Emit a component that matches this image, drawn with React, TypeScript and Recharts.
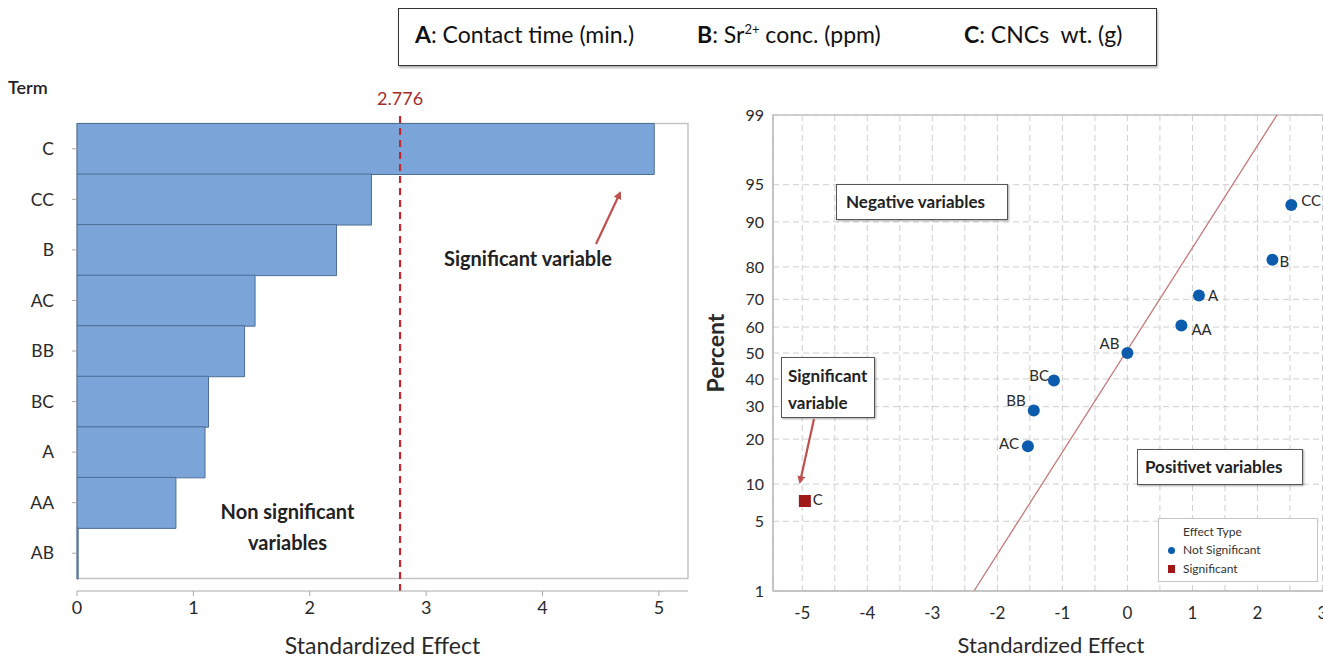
import React from "react";
import {
  BarChart,
  Bar,
  ComposedChart,
  Scatter,
  Line,
  XAxis,
  YAxis,
  CartesianGrid,
  ReferenceLine,
  ReferenceArea,
  LabelList,
  Label,
} from "recharts";

// Pareto chart (absolute standardized effects)
const paretoTerms = ["C", "CC", "B", "AC", "BB", "BC", "A", "AA", "AB"];
const paretoEffects = [4.96, 2.53, 2.23, 1.53, 1.44, 1.13, 1.1, 0.85, 0.01];
const criticalValue = 2.776;
const paretoTicks = [0, 1, 2, 3, 4, 5];

// Normal plot of standardized effects
const normalTerms = ["C", "AC", "BB", "BC", "AB", "AA", "A", "B", "CC"];
const normalEffects = [-4.96, -1.53, -1.44, -1.13, 0.0, 0.83, 1.1, 2.23, 2.52];
const normalPercents = [7.4, 18.1, 28.7, 39.4, 50, 60.6, 71.3, 81.9, 92.6];
const significantTerms = ["C"];
const fitEffects = [-2.36, 2.3];
const fitPercents = [1, 99];
const percentTicks = [1, 5, 10, 20, 30, 40, 50, 60, 70, 80, 90, 95, 99];
const effectTicks = [-5, -4.5, -4, -3.5, -3, -2.5, -2, -1.5, -1, -0.5, 0, 0.5, 1, 1.5, 2, 2.5, 3];

const FONT = "Lato, 'Open Sans', sans-serif";
const TEXT = "#2a2a2a";

// inverse normal CDF (Acklam) -> maps percent onto the probability axis
function probit(pct: number): number {
  const p = pct / 100;
  const a = [-39.69683028665376, 220.9460984245205, -275.9285104469687, 138.357751867269, -30.66479806614716, 2.506628277459239];
  const b = [-54.47609879822406, 161.5858368580409, -155.6989798598866, 66.80131188771972, -13.28068155288572];
  const c = [-0.007784894002430293, -0.3223964580411365, -2.400758277161838, -2.549732539343734, 4.374664141464968, 2.938163982698783];
  const d = [0.007784695709041462, 0.3224671290700398, 2.445134137142996, 3.754408661907416];
  const tail = (q: number) =>
    (((((c[0] * q + c[1]) * q + c[2]) * q + c[3]) * q + c[4]) * q + c[5]) /
    ((((d[0] * q + d[1]) * q + d[2]) * q + d[3]) * q + 1);
  if (p < 0.02425) return tail(Math.sqrt(-2 * Math.log(p)));
  if (p > 1 - 0.02425) return -tail(Math.sqrt(-2 * Math.log(1 - p)));
  const q = p - 0.5;
  const r = q * q;
  return (
    ((((((a[0] * r + a[1]) * r + a[2]) * r + a[3]) * r + a[4]) * r + a[5]) * q) /
    (((((b[0] * r + b[1]) * r + b[2]) * r + b[3]) * r + b[4]) * r + 1)
  );
}

const paretoData = paretoTerms.map((term, i) => ({ term, effect: paretoEffects[i] }));

const pointData = normalTerms.map((term, i) => ({
  term,
  x: normalEffects[i],
  z: probit(normalPercents[i]),
}));
const notSigData = pointData.filter((d) => !significantTerms.includes(d.term));
const sigData = pointData.filter((d) => significantTerms.includes(d.term));
const fitData = fitEffects.map((x, i) => ({ x, z: probit(fitPercents[i]) }));
const zTicks = percentTicks.map(probit);
const zDomain = [probit(1), probit(99)];

// label placement next to each point: [dx, dy, anchor]
const labelPlacement: Record<string, [number, number, string]> = {
  CC: [10, -5, "start"],
  B: [7, 1, "start"],
  A: [9, 0, "start"],
  AA: [10, 4, "start"],
  AB: [-8, -10, "end"],
  BC: [-5, -6, "end"],
  BB: [-8, -11, "end"],
  AC: [-9, -3, "end"],
  C: [8, -2, "start"],
};

function PointLabel(props: any) {
  const { x, y, width, height, value } = props;
  const cx = x + (width || 0) / 2;
  const cy = y + (height || 0) / 2;
  const [dx, dy, anchor] = labelPlacement[value] || [8, 0, "start"];
  return (
    <text x={cx + dx} y={cy + dy} textAnchor={anchor as any} dominantBaseline="central" fontSize={15} fill={TEXT} fontFamily={FONT}>
      {value}
    </text>
  );
}

const dot = (props: any) => <circle cx={props.cx} cy={props.cy} r={6} fill="#0b5cad" />;
const square = (props: any) => <rect x={props.cx - 6} y={props.cy - 6} width={12} height={12} fill="#a01818" />;

const boxStyle: React.CSSProperties = {
  position: "absolute",
  background: "#fff",
  border: "1px solid #555",
  boxShadow: "1px 1px 2px rgba(0,0,0,0.35)",
  fontWeight: 700,
  fontSize: 17,
  color: "#222",
  boxSizing: "border-box",
};

export default function App() {
  return (
    <div style={{ position: "absolute", left: 0, top: 0, width: 1323, height: 660, overflow: "hidden", background: "#fff", fontFamily: FONT, color: TEXT }}>
      {/* header with factor names */}
      <div style={{ position: "absolute", left: 398, top: 8, width: 759, height: 58, border: "1.5px solid #333", boxShadow: "1px 2px 2px rgba(0,0,0,0.3)", boxSizing: "border-box", fontSize: 23, color: "#111" }}>
        <span style={{ position: "absolute", left: 16, top: 11 }}><b>A</b>: Contact time (min.)</span>
        <span style={{ position: "absolute", left: 298, top: 11 }}><b>B</b>: Sr<sup style={{ fontSize: 13 }}>2+</sup> conc. (ppm)</span>
        <span style={{ position: "absolute", left: 565, top: 11 }}><b>C</b>: CNCs&nbsp; wt. (g)</span>
      </div>

      {/* Pareto chart */}
      <div style={{ position: "absolute", left: 0, top: 0 }}>
        <BarChart width={700} height={660} data={paretoData} layout="vertical" barCategoryGap={0} margin={{ top: 111, right: 12, bottom: 0, left: 37 }}>
          <XAxis
            type="number"
            domain={[0, 5.25]}
            ticks={paretoTicks}
            height={69}
            stroke="#aaa"
            tickSize={5}
            tickMargin={5}
            tick={{ fontSize: 18, fill: TEXT, fontFamily: FONT }}
          >
            <Label value="Standardized Effect" position="insideBottom" offset={6} style={{ fontSize: 23, fill: TEXT, fontFamily: FONT }} />
          </XAxis>
          <YAxis
            type="category"
            dataKey="term"
            width={40}
            padding={{ top: 12.5, bottom: 12.5 }}
            axisLine={false}
            stroke="#aaa"
            tickSize={5}
            tickMargin={18}
            tick={{ fontSize: 17.5, fill: TEXT, fontFamily: FONT }}
          />
          <ReferenceArea x1={0} x2={5.25} fill="none" stroke="#c4c4c4" strokeWidth={1.5} />
          <Bar dataKey="effect" fill="#7ba4d8" stroke="#4d6e96" strokeWidth={1} isAnimationActive={false} />
          <ReferenceLine
            x={criticalValue}
            stroke="#c0282d"
            strokeWidth={2.2}
            strokeDasharray="7 5"
            label={{ value: "2.776", position: "top", offset: 6, fill: "#a32c2c", fontSize: 18, fontFamily: FONT }}
          />
        </BarChart>
      </div>

      {/* Normal plot */}
      <div style={{ position: "absolute", left: 700, top: 0 }}>
        <ComposedChart width={640} height={660} margin={{ top: 115, right: 11, bottom: 0, left: 0 }}>
          <CartesianGrid stroke="#cfcfcf" strokeDasharray="6 4" />
          <XAxis
            type="number"
            dataKey="x"
            domain={[-5.45, 3.1]}
            allowDataOverflow
            ticks={effectTicks}
            interval={0}
            tickFormatter={(v: number) => (Number.isInteger(v) ? String(v) : "")}
            height={69}
            stroke="#bbb"
            tickLine={false}
            tickMargin={10}
            tick={{ fontSize: 17, fill: TEXT, fontFamily: FONT }}
          >
            <Label value="Standardized Effect" position="insideBottom" offset={7} style={{ fontSize: 22, fill: TEXT, fontFamily: FONT }} />
          </XAxis>
          <YAxis
            type="number"
            dataKey="z"
            domain={zDomain}
            allowDataOverflow
            ticks={zTicks}
            interval={0}
            tickFormatter={(v: number, i: number) => String(percentTicks[i])}
            width={73}
            stroke="#bbb"
            tickSize={0}
            tickMargin={9}
            tick={{ fontSize: 16, fill: TEXT, fontFamily: FONT }}
          >
            <Label value="Percent" angle={-90} position="insideLeft" offset={16} style={{ fontSize: 23, fontWeight: 700, fill: TEXT, fontFamily: FONT, textAnchor: "middle" }} />
          </YAxis>
          <ReferenceArea x1={-5.45} x2={3.1} y1={zDomain[0]} y2={zDomain[1]} fill="none" stroke="#c4c4c4" strokeWidth={1.5} />
          <Line data={fitData} dataKey="z" stroke="#c47a7a" strokeWidth={1.3} dot={false} isAnimationActive={false} />
          <Scatter data={notSigData} dataKey="z" shape={dot} isAnimationActive={false}>
            <LabelList dataKey="term" content={PointLabel} />
          </Scatter>
          <Scatter data={sigData} dataKey="z" shape={square} isAnimationActive={false}>
            <LabelList dataKey="term" content={PointLabel} />
          </Scatter>
        </ComposedChart>
      </div>

      {/* annotations */}
      <div style={{ position: "absolute", left: 8, top: 76, fontSize: 18, fontWeight: 600, color: "#222" }}>Term</div>
      <div style={{ position: "absolute", left: 444, top: 246, fontSize: 20, fontWeight: 700, color: "#222" }}>Significant variable</div>
      <div style={{ position: "absolute", left: 195, top: 496, width: 185, textAlign: "center", fontSize: 20, fontWeight: 700, color: "#222", lineHeight: "31px" }}>
        Non significant
        <br />
        variables
      </div>

      <div style={{ ...boxStyle, left: 836, top: 184, width: 172, height: 36, paddingLeft: 9, lineHeight: "34px" }}>Negative variables</div>
      <div style={{ ...boxStyle, left: 781, top: 357, width: 94, height: 61, paddingLeft: 6, paddingTop: 4, lineHeight: "27px" }}>
        Significant
        <br />
        variable
      </div>
      <div style={{ ...boxStyle, left: 1137, top: 449, width: 166, height: 36, paddingLeft: 7, lineHeight: "34px" }}>Positivet variables</div>

      <div style={{ position: "absolute", left: 1158, top: 518, width: 160, height: 64, background: "#fff", border: "1px solid #c4c4c4", boxSizing: "border-box", fontSize: 12, color: "#333" }}>
        <div style={{ position: "absolute", left: 24, top: 5 }}>Effect Type</div>
        <span style={{ position: "absolute", left: 9, top: 28, width: 7, height: 7, borderRadius: 4, background: "#0b5cad" }} />
        <div style={{ position: "absolute", left: 24, top: 23 }}>Not Significant</div>
        <span style={{ position: "absolute", left: 9, top: 46, width: 7, height: 8, background: "#a01818" }} />
        <div style={{ position: "absolute", left: 24, top: 42 }}>Significant</div>
      </div>

      <svg width={1323} height={660} style={{ position: "absolute", left: 0, top: 0, pointerEvents: "none" }}>
        <defs>
          <marker id="head" markerWidth="8" markerHeight="8" refX="6" refY="4" orient="auto" markerUnits="userSpaceOnUse">
            <path d="M0,0 L8,4 L0,8 z" fill="#c0504d" />
          </marker>
        </defs>
        <line x1={596} y1={244} x2={620} y2={193} stroke="#c0504d" strokeWidth={2.2} markerEnd="url(#head)" />
        <line x1={814} y1={419} x2={800} y2={482} stroke="#c0504d" strokeWidth={2.2} markerEnd="url(#head)" />
      </svg>
    </div>
  );
}
